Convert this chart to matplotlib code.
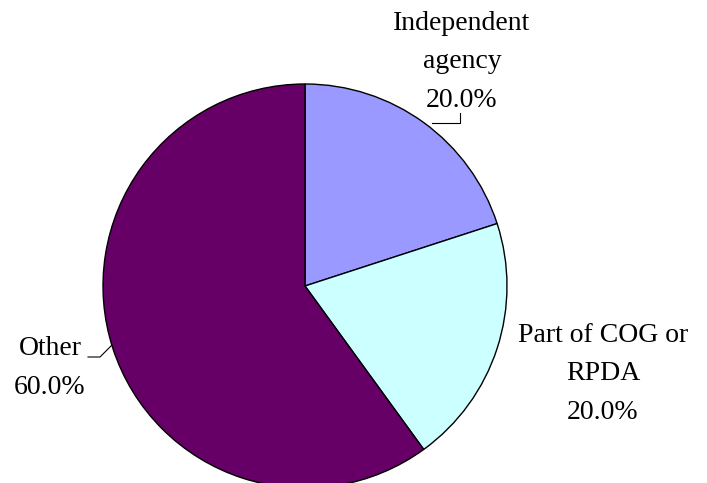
import matplotlib.pyplot as plt

labels = ['Independent\nagency', 'Part of COG or\nRPDA', 'Other']
shares = [20.0, 20.0, 60.0]
colors = ['#9999FF', '#CCFFFF', '#660066']

W, H = 707, 483
fig = plt.figure(figsize=(W / 100, H / 100), dpi=100)
ax = fig.add_axes([0, 0, 1, 1])

cx, cy, r = 305, H - 286, 202
ax.pie(shares, colors=colors, startangle=90, counterclock=False,
       center=(cx, cy), radius=r, frame=True,
       wedgeprops=dict(edgecolor='black', linewidth=1.0))
ax.set_xlim(0, W)
ax.set_ylim(0, H)
ax.set_aspect('equal')
ax.axis('off')

font = dict(family='Liberation Serif', size=20, color='black', linespacing=1.72)
pos = [(462, H - 62), (603, H - 374), (50, H - 368)]
for lab, val, (x, y) in zip(labels, shares, pos):
    ax.text(x, y, '{}\n{:.1f}%'.format(lab, val), ha='center', va='center', **font)

# leader lines
ax.plot([432, 460, 460], [H - 123, H - 123, H - 113], color='black', lw=0.8)
ax.plot([88, 100, 112], [H - 357, H - 357, H - 345], color='black', lw=0.8)

fig.savefig('out.png', dpi=100)
